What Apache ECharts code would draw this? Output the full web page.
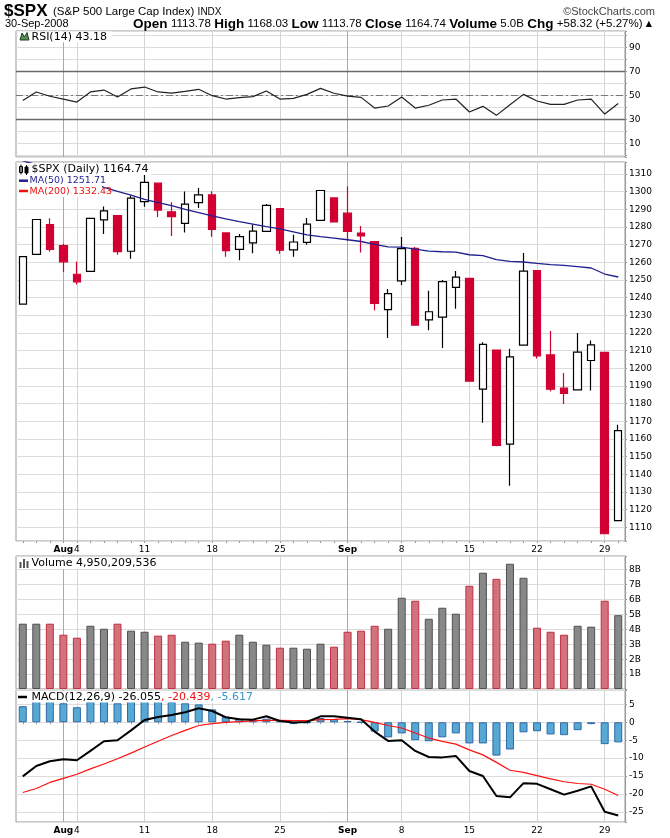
<!DOCTYPE html>
<html><head><meta charset="utf-8">
<script src="https://cdn.jsdelivr.net/npm/echarts@6/dist/echarts.min.js"></script>
<style>html,body{margin:0;padding:0;background:#fff}#c{width:670px;height:838px}</style>
</head><body><div id="c"></div><script>
const dates = ['7/29','7/30','7/31','8/1','8/4','8/5','8/6','8/7','8/8','8/11','8/12','8/13','8/14','8/15','8/18','8/19','8/20','8/21','8/22','8/25','8/26','8/27','8/28','8/29','9/2','9/3','9/4','9/5','9/8','9/9','9/10','9/11','9/12','9/15','9/16','9/17','9/18','9/19','9/22','9/23','9/24','9/25','9/26','9/29','9/30'];
const xLabels = ['','','','Aug','4','','','','','11','','','','','18','','','','','25','','','','','Sep','','','','8','','','','','15','','','','','22','','','','','29',''];
const monthLabels = ['Aug','Sep'];
const weekLines = ['8/4','8/11','8/18','8/25','9/8','9/15','9/22','9/29'];
const monthLines = ['8/1','9/2'];

const opens  = [1236.38,1264.52,1281.37,1269.42,1253.27,1254.87,1283.99,1286.51,1266.29,1294.42,1304.79,1288.64,1282.11,1293.85,1298.14,1276.65,1267.34,1271.07,1277.59,1290.47,1267.03,1271.29,1283.79,1296.49,1287.83,1276.61,1271.80,1233.21,1249.50,1267.98,1227.50,1229.04,1245.88,1250.92,1188.31,1210.34,1157.08,1213.11,1255.37,1207.61,1188.79,1187.87,1204.47,1209.07,1113.78];
const highs  = [1263.20,1284.33,1284.93,1270.52,1260.49,1284.88,1291.67,1286.51,1297.85,1313.15,1304.79,1294.03,1300.11,1302.05,1300.22,1276.65,1276.01,1281.40,1293.09,1290.47,1275.65,1285.05,1300.68,1296.49,1303.04,1280.60,1271.80,1244.94,1274.42,1268.66,1243.90,1249.98,1255.09,1250.92,1214.84,1210.34,1211.14,1265.33,1255.37,1221.15,1197.41,1220.03,1215.77,1209.07,1168.03];
const lows   = [1236.38,1264.52,1265.97,1254.54,1247.45,1254.67,1276.00,1264.29,1262.11,1291.41,1285.64,1274.86,1276.84,1290.74,1274.51,1263.11,1261.16,1265.22,1277.59,1264.87,1263.21,1270.03,1283.79,1282.74,1272.20,1265.59,1232.83,1217.23,1247.12,1224.51,1221.60,1211.54,1233.81,1192.70,1169.28,1155.88,1133.50,1213.11,1205.61,1187.06,1179.79,1187.87,1187.54,1106.42,1113.78];
const closes = [1263.20,1284.26,1267.38,1260.31,1249.01,1284.88,1289.19,1266.07,1296.32,1305.32,1289.59,1285.83,1292.93,1298.20,1278.60,1266.69,1274.54,1277.72,1292.20,1266.84,1271.51,1281.66,1300.68,1282.83,1277.58,1274.98,1236.83,1242.31,1267.79,1224.51,1232.04,1249.05,1251.70,1192.70,1213.60,1156.39,1206.51,1255.08,1207.09,1188.22,1185.87,1209.18,1213.27,1106.39,1164.74];
const ma50 = [1317.5,1315.3,1313.0,1310.7,1308.4,1305.6,1302.4,1300.2,1298.0,1295.7,1293.8,1292.1,1290.0,1288.2,1286.3,1284.6,1283.0,1281.6,1280.2,1279.0,1277.3,1275.6,1274.6,1273.7,1272.8,1271.8,1270.2,1268.8,1268.6,1267.5,1266.4,1266.0,1265.8,1264.3,1263.8,1261.5,1260.6,1260.2,1259.4,1258.7,1258.3,1257.6,1256.8,1253.4,1251.71];
const rsi = [45.6,52.8,49.2,46.9,44.4,52.8,54.4,48.6,55.3,56.9,52.8,51.9,53.3,55.0,49.7,46.9,48.1,48.9,53.6,46.9,47.5,50.8,55.8,51.7,49.4,48.3,39.4,41.1,48.6,39.4,41.7,46.1,46.9,36.1,40.8,33.3,42.2,50.8,45.3,42.5,42.5,46.1,46.9,34.4,43.18];
const rsiLevels = [70, 30];
const rsiMid = 50;
const volumes = [4.38,4.38,4.38,3.64,3.44,4.24,4.04,4.38,3.91,3.84,3.58,3.64,3.17,3.11,3.04,3.24,3.64,3.17,2.97,2.77,2.77,2.70,3.04,2.84,3.84,3.91,4.24,4.04,6.12,5.92,4.71,5.45,5.05,6.92,7.80,7.39,8.40,7.46,4.11,3.84,3.64,4.24,4.18,5.92,4.95];
const macd = [-15.1,-12.2,-10.9,-10.35,-10.6,-8.0,-5.3,-5.0,-2.25,0.65,1.5,2.04,2.8,3.9,3.16,1.4,0.84,0.74,1.67,0.37,-0.09,0.09,1.67,1.67,1.3,0.84,-2.6,-5.2,-5.0,-8.0,-9.7,-9.8,-9.4,-13.6,-15.0,-20.6,-20.96,-17.0,-17.2,-18.7,-20.2,-19.1,-17.9,-25.0,-26.055];
const signal = [-19.6,-18.5,-16.8,-15.65,-14.5,-13.0,-11.65,-10.2,-8.6,-6.9,-5.3,-3.7,-2.25,-0.9,-0.37,0,0.19,0.37,0.56,0.56,0.47,0.47,0.74,0.84,1.0,0.74,0,-0.9,-1.6,-3.0,-4.4,-5.35,-6.1,-7.7,-9.1,-11.2,-13.4,-13.97,-14.9,-15.8,-16.6,-17.1,-17.3,-18.7,-20.439];
const hist = [4.5,6.3,5.9,5.3,4.2,5.8,6.3,5.3,6.3,7.5,6.8,5.7,5.3,5.0,3.6,1.56,1.0,0.7,1.0,0.4,-0.5,-0.2,1.2,0.9,0.35,0.05,-2.6,-4.2,-3.1,-5.0,-5.3,-4.2,-3.1,-5.9,-5.9,-9.3,-7.6,-2.8,-2.5,-3.4,-3.6,-2.2,-0.5,-6.1,-5.617];

const AF = 'DejaVu Sans';
const HF = 'Liberation Sans';
const chart = echarts.init(document.getElementById('c'), null, {renderer:'canvas'});

const grids = [
  {left:16, right:45, top:31, height:126},
  {left:16, right:45, top:162, height:379},
  {left:16, right:45, top:556, height:133},
  {left:16, right:45, top:690, height:132}
].map(g => Object.assign(g, {show:true, borderColor:'#999', borderWidth:1, backgroundColor:'transparent'}));

function xAxisFor(i, showLabels) {
  return {
    type:'category', gridIndex:i, data:dates, boundaryGap:true,
    axisLine:{show:false},
    axisTick:{show:showLabels, interval:0, alignWithLabel:true, length:2, lineStyle:{color:'#999'}},
    axisLabel:{show:showLabels, interval:0, margin:4, fontFamily:AF, fontSize:9, color:'#000',
      formatter:(v, idx) => { const l = xLabels[idx] || ''; return monthLabels.includes(l) ? '{m|' + l + '}' : l; },
      rich:{m:{fontFamily:AF, fontSize:9, fontWeight:'bold', color:'#000'}}},
    splitLine:{show:false}
  };
}
function yAxisFor(i, min, max, splitNumber, fmt) {
  return {
    type:'value', gridIndex:i, position:'right', min, max, splitNumber,
    axisLine:{show:true, lineStyle:{color:'#999'}},
    axisTick:{show:true, length:2, lineStyle:{color:'#999'}},
    minorTick:{show:true, splitNumber:2, length:1.5, lineStyle:{color:'#aaa'}},
    axisLabel:{margin:4, fontFamily:AF, fontSize:9, color:'#000', formatter:fmt},
    splitLine:{show:true, lineStyle:{color:'#dcdcdc', width:1}}
  };
}
const near = (v, s) => Math.abs(v - Math.round(v / s) * s) < 1e-6;

function vLines(extra) {
  const d = weekLines.map(x => ({xAxis:x, lineStyle:{color:'#d4d4d4', width:1, type:'solid'}}))
    .concat(monthLines.map(x => ({xAxis:x, lineStyle:{color:'#a8a8a8', width:1, type:'solid'}})));
  return {silent:true, z:1, symbol:['none','none'], label:{show:false}, animation:false,
    data: d.concat(extra || [])};
}

const volUp = closes.map((c, i) => i === 0 ? c >= opens[0] : c >= closes[i - 1]);

const option = {
  animation:false,
  grid: grids,
  xAxis:[xAxisFor(0,false), xAxisFor(1,true), xAxisFor(2,false), xAxisFor(3,true)],
  yAxis:[
    yAxisFor(0, -1.4, 103.6, 10, v => [10,30,50,70,90].some(t => Math.abs(v - t) < 1e-6) ? String(Math.round(v)) : ''),
    yAxisFor(1, 1102.3, 1316.8, 21, v => near(v, 10) && v >= 1105 && v <= 1315 ? String(Math.round(v)) : ''),
    yAxisFor(2, 0, 8.92, 9, v => near(v, 1) && v >= 1 && v <= 8 ? Math.round(v) + 'B' : ''),
    yAxisFor(3, -27.85, 9.02, 7, v => near(v, 5) && v >= -25 && v <= 5 ? String(Math.round(v)) : '')
  ],
  series:[
    {type:'line', xAxisIndex:0, yAxisIndex:0, data:rsi, symbol:'none', z:3,
      lineStyle:{color:'#222', width:1.2},
      markLine: vLines(rsiLevels.map(v => ({yAxis:v, lineStyle:{color:'#6a6a6a', width:1.3, type:'solid'}}))
        .concat([{yAxis:rsiMid, lineStyle:{color:'#777', width:1, type:[7,3,2,3]}}]))},
    {type:'candlestick', xAxisIndex:1, yAxisIndex:1, z:3, barWidth:8,
      data: dates.map((d, i) => [opens[i], closes[i], lows[i], highs[i]]),
      itemStyle:{color:'#ffffff', color0:'#d20032', borderColor:'#000000', borderColor0:'#d20032', borderWidth:1.2},
      markLine: vLines()},
    {type:'line', xAxisIndex:1, yAxisIndex:1, data:ma50, symbol:'none', z:4,
      lineStyle:{color:'#1f1f8f', width:1.3}},
    {type:'bar', xAxisIndex:2, yAxisIndex:2, z:3, barWidth:8,
      data: volumes.map((v, i) => ({value:v, itemStyle: volUp[i]
        ? {color:'#888888', borderColor:'#505050', borderWidth:1}
        : {color:'#d2727c', borderColor:'#c03040', borderWidth:1}})),
      markLine: vLines()},
    {type:'bar', xAxisIndex:3, yAxisIndex:3, z:3, barWidth:8, data:hist,
      itemStyle:{color:'#58a8d4', borderColor:'#2e68a4', borderWidth:1},
      markLine: vLines()},
    {type:'line', xAxisIndex:3, yAxisIndex:3, data:signal, symbol:'none', z:4,
      lineStyle:{color:'#ff1010', width:1.2}},
    {type:'line', xAxisIndex:3, yAxisIndex:3, data:macd, symbol:'none', z:5,
      lineStyle:{color:'#000', width:2}}
  ],
  graphic:[
    // header
    {type:'text', x:4, y:11, z:100, style:{text:'$SPX', font:'bold 17px "Liberation Sans"', fill:'#000', verticalAlign:'middle'}},
    {type:'text', x:53, y:12, z:100, style:{text:'{a|(S&P 500 Large Cap Index)} {b|INDX}', verticalAlign:'middle',
      rich:{a:{fontFamily:HF, fontSize:11.5, fill:'#000'}, b:{fontFamily:HF, fontSize:10, fill:'#000'}}}},
    {type:'text', x:655, y:12, z:100, style:{text:'©StockCharts.com', font:'11px "Liberation Sans"', fill:'#444', align:'right', verticalAlign:'middle'}},
    {type:'text', x:5, y:24, z:100, style:{text:'30-Sep-2008', font:'11px "Liberation Sans"', fill:'#000', verticalAlign:'middle'}},
    {type:'text', x:652, y:24, z:100, style:{align:'right', verticalAlign:'middle',
      text:'{b|Open} {n|1113.78} {b|High} {n|1168.03} {b|Low} {n|1113.78} {b|Close} {n|1164.74} {b|Volume} {n|5.0B} {b|Chg} {n|+58.32 (+5.27%)} {t|▲}',
      rich:{b:{fontFamily:HF, fontSize:13.5, fontWeight:'bold', fill:'#000'}, n:{fontFamily:HF, fontSize:11.5, fill:'#000'}, t:{fontFamily:AF, fontSize:8, fill:'#000'}}}},
    // RSI legend
    {type:'rect', z:99, shape:{x:18, y:31.5, width:94, height:11}, style:{fill:'#fff'}},
    {type:'polygon', z:100, shape:{points:[[20,40],[22,33],[24.5,37],[27,32.5],[29,40]]}, style:{fill:'#5b8c5b', stroke:'#1f3f1f', lineWidth:1}},
    {type:'text', x:31.5, y:37, z:100, style:{text:'RSI(14) 43.18', font:'11px "DejaVu Sans"', fill:'#000', verticalAlign:'middle'}},
    // Price legend
    {type:'rect', z:99, shape:{x:18, y:163, width:133, height:12}, style:{fill:'#fff'}},
    {type:'rect', z:99, shape:{x:18, y:175, width:84, height:22}, style:{fill:'#fff'}},
    {type:'rect', z:100, shape:{x:19.5, y:166.5, width:3, height:6}, style:{fill:'#fff', stroke:'#000', lineWidth:1}},
    {type:'line', z:100, shape:{x1:21, y1:164.5, x2:21, y2:174.5}, style:{stroke:'#000', lineWidth:1}},
    {type:'rect', z:100, shape:{x:25, y:167, width:3, height:6}, style:{fill:'#000', stroke:'#000', lineWidth:1}},
    {type:'line', z:100, shape:{x1:26.5, y1:165, x2:26.5, y2:175}, style:{stroke:'#000', lineWidth:1}},
    {type:'text', x:31.5, y:169.5, z:100, style:{text:'$SPX (Daily) 1164.74', font:'11px "DejaVu Sans"', fill:'#000', verticalAlign:'middle'}},
    {type:'line', z:100, shape:{x1:19, y1:180.7, x2:28, y2:180.7}, style:{stroke:'#1f1f8f', lineWidth:2.5}},
    {type:'text', x:29.5, y:181, z:100, style:{text:'MA(50) 1251.71', font:'9.5px "DejaVu Sans"', fill:'#1f1f8f', verticalAlign:'middle'}},
    {type:'line', z:100, shape:{x1:19, y1:191, x2:28, y2:191}, style:{stroke:'#ee1111', lineWidth:2.5}},
    {type:'text', x:29.5, y:191.3, z:100, style:{text:'MA(200) 1332.43', font:'9.5px "DejaVu Sans"', fill:'#ee1111', verticalAlign:'middle'}},
    // Volume legend
    {type:'rect', z:99, shape:{x:18, y:557, width:142, height:12}, style:{fill:'#fff'}},
    {type:'rect', z:100, shape:{x:19.5, y:562, width:2, height:6}, style:{fill:'#555'}},
    {type:'rect', z:100, shape:{x:23, y:559, width:2, height:9}, style:{fill:'#555'}},
    {type:'rect', z:100, shape:{x:26.5, y:561, width:2, height:7}, style:{fill:'#555'}},
    {type:'text', x:31.5, y:563.5, z:100, style:{text:'Volume 4,950,209,536', font:'11px "DejaVu Sans"', fill:'#000', verticalAlign:'middle'}},
    // MACD legend
    {type:'rect', z:99, shape:{x:17, y:691, width:245, height:11.5}, style:{fill:'#fff'}},
    {type:'line', z:100, shape:{x1:18, y1:697, x2:27, y2:697}, style:{stroke:'#000', lineWidth:2.5}},
    {type:'text', x:31.5, y:697, z:100, style:{verticalAlign:'middle',
      text:'{k|MACD(12,26,9) -26.055}{r|, -20.439}{b|, -5.617}',
      rich:{k:{fontFamily:AF, fontSize:11, fill:'#000'}, r:{fontFamily:AF, fontSize:11, fill:'#ee1111'}, b:{fontFamily:AF, fontSize:11, fill:'#3a96c8'}}}}
  ]
};
chart.setOption(option);
</script></body></html>
